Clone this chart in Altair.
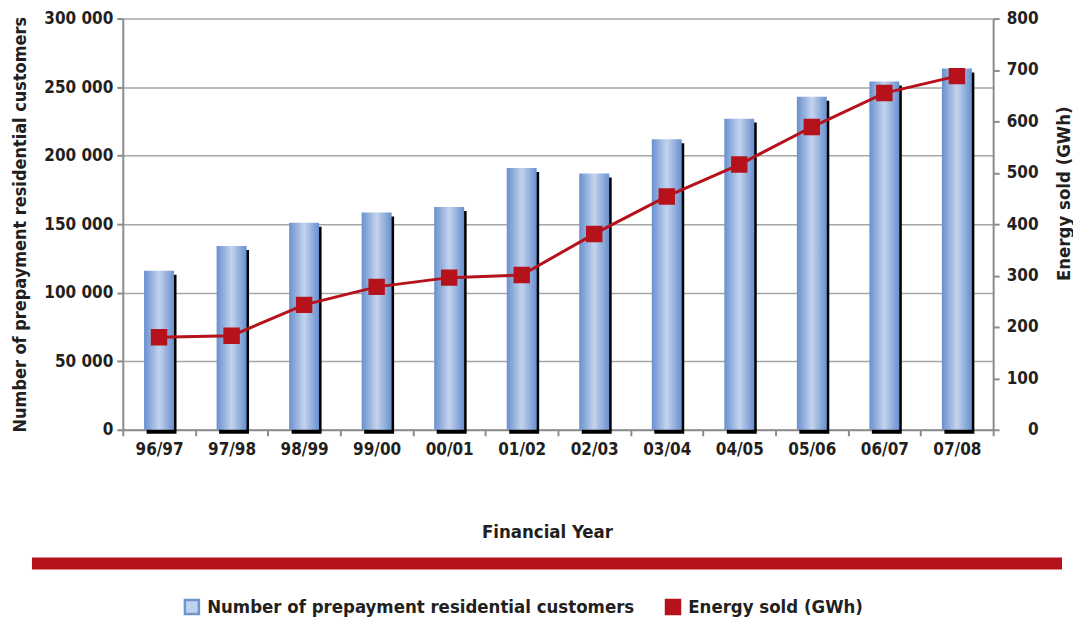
import altair as alt
import pandas as pd

years = ["96/97", "97/98", "98/99", "99/00", "00/01", "01/02",
         "02/03", "03/04", "04/05", "05/06", "06/07", "07/08"]
customers = [116000, 134000, 151000, 158500, 162500, 191000,
             187000, 212000, 227000, 243000, 254000, 263500]
energy = [180, 183, 243, 278, 296, 301, 381, 454, 516, 589, 655, 688]

CUST = "Number of prepayment residential customers"
ENER = "Energy sold (GWh)"
FONT = "Liberation Sans Narrow, Arial Narrow, DejaVu Sans Condensed, sans-serif"
RED = "#b5121b"
TXT = "#231f20"
AX = "#8c8c8c"

df = pd.DataFrame({"year": years, "customers": customers,
                   "energy": energy, "series": ENER})

x_enc = alt.X(
    "year:N", sort=years,
    scale=alt.Scale(paddingInner=0, paddingOuter=0),
    axis=alt.Axis(title="Financial Year", tickBand="extent", labelAngle=0,
                  labelPadding=6, titleX=425, titleY=102,
                  titleBaseline="middle", titleFontSize=18.5,
                  grid=False),
)

y_left = alt.Y(
    "customers:Q",
    scale=alt.Scale(domain=[0, 300000], nice=False),
    axis=alt.Axis(title=CUST, orient="left",
                  values=list(range(0, 300001, 50000)),
                  labelExpr="replace(format(datum.value, ','), ',', ' ')",
                  grid=True, gridColor="#a6a6a6", gridWidth=1.5,
                  labelPadding=4, titleX=-93, titleFontSize=18),
)

y_right = alt.Y(
    "energy:Q",
    scale=alt.Scale(domain=[0, 800], nice=False),
    axis=alt.Axis(title=ENER, orient="right",
                  values=list(range(0, 801, 100)),
                  grid=False, labelAlign="right", labelPadding=39,
                  titleX=80, titleY=175, titleAngle=270,
                  titleBaseline="bottom", titleFontSize=18.5),
)

base = alt.Chart(df)

grad = alt.Gradient(
    gradient="linear", x1=0, x2=1, y1=0, y2=0,
    stops=[alt.GradientStop(offset=0, color="#6890cf"),
           alt.GradientStop(offset=0.5, color="#c4d3ed"),
           alt.GradientStop(offset=1, color="#6890cf")],
)

shadow = base.mark_bar(size=30, color="black", xOffset=2.5, yOffset=4).encode(
    x=x_enc, y=y_left)
bars = base.mark_bar(size=30, color=grad).encode(x=x_enc, y=y_left)
left = alt.layer(shadow, bars)

line = base.mark_line(color=RED, strokeWidth=3).encode(x=x_enc, y=y_right)
squares = base.mark_square(size=196, opacity=1, strokeWidth=2.5).encode(
    x=x_enc, y=y_right,
    fill=alt.Fill("series:N",
                  scale=alt.Scale(domain=[CUST, ENER], range=["#c2d2ee", RED]),
                  legend=alt.Legend(title=None)),
    stroke=alt.Stroke("series:N",
                      scale=alt.Scale(domain=[CUST, ENER], range=["#6f95d0", RED]),
                      legend=alt.Legend(title=None)),
)
right = alt.layer(line, squares)

band = alt.Chart(pd.DataFrame({"a": [0]})).mark_rect(color=RED).encode(
    x=alt.value(-91), x2=alt.value(941), y=alt.value(540), y2=alt.value(552))

chart = alt.layer(left, right, band).resolve_scale(y="independent").properties(
    width=872, height=412,
    autosize=alt.AutoSizeParams(type="none"),
    padding={"left": 115, "top": 10, "right": 80, "bottom": 196},
).configure_view(stroke=None).configure_axis(
    labelFont=FONT, labelFontSize=17, labelFontWeight="bold", labelColor=TXT,
    titleFont=FONT, titleFontWeight="bold", titleColor=TXT,
    domainColor=AX, domainWidth=2, tickColor=AX, tickWidth=2, tickSize=6,
).configure_legend(
    orient="none", legendX=60, legendY=580, direction="horizontal",
    symbolType="square", symbolSize=196, symbolStrokeWidth=2.5,
    labelFont=FONT, labelFontSize=18.5, labelFontWeight="bold", labelColor=TXT,
    columnPadding=26, labelLimit=0, labelOffset=6,
)

chart.save("out.html", embed_options={"renderer": "svg", "actions": False})
